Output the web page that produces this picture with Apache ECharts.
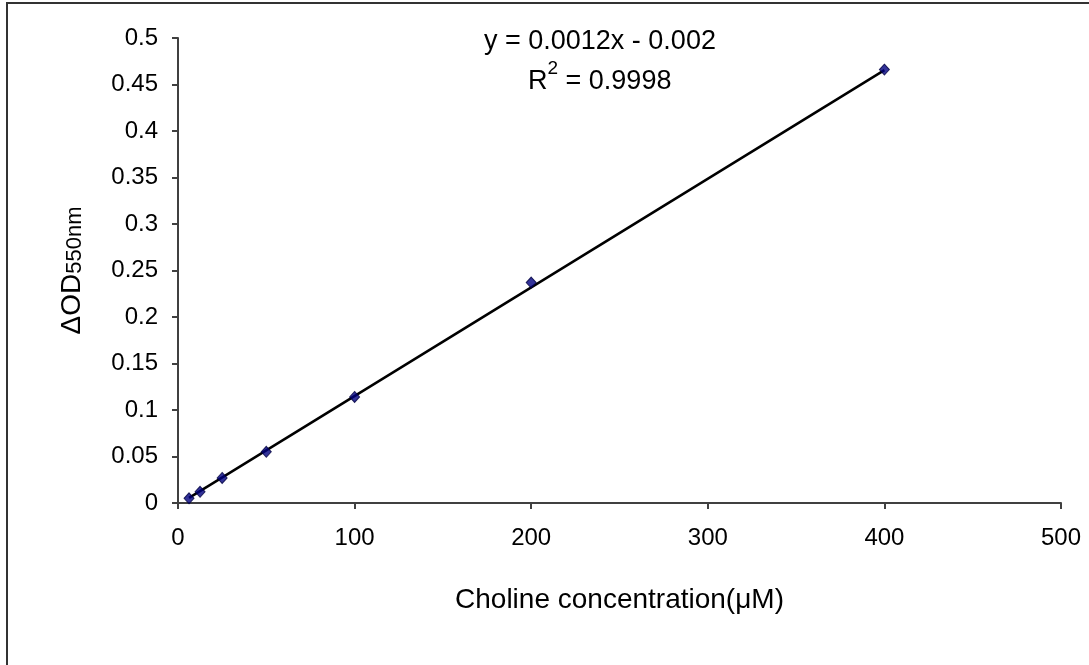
<!DOCTYPE html>
<html>
<head>
<meta charset="utf-8">
<script src="https://cdn.jsdelivr.net/npm/echarts@6/dist/echarts.min.js"></script>
<style>
  html, body { margin: 0; padding: 0; background: #fff; }
  #chart { width: 1089px; height: 665px; }
</style>
</head>
<body>
<div id="chart"></div>
<script>
// choline standard curve
var concentration = [6.25, 12.5, 25, 50, 100, 200, 400]
var deltaOD = [0.005, 0.012, 0.027, 0.055, 0.114, 0.237, 0.466]
// ends of the fitted trendline
var trendX = [6.25, 400]
var trendY = [0.0055, 0.4655]
var xTicks = [0, 100, 200, 300, 400, 500]
var yTicks = [0, 0.05, 0.1, 0.15, 0.2, 0.25, 0.3, 0.35, 0.4, 0.45, 0.5]

var font = '"Liberation Sans", Arial, sans-serif'
var axisColor = '#404040'

var myChart = echarts.init(document.getElementById('chart'))

var points = concentration.map(function (c, i) { return [c, deltaOD[i]] })
var trend = trendX.map(function (c, i) { return [c, trendY[i]] })

myChart.setOption({
  animation: false,
  backgroundColor: '#fff',
  grid: { left: 178, right: 28, top: 38, bottom: 162 },
  xAxis: {
    type: 'value',
    min: xTicks[0],
    max: xTicks[xTicks.length - 1],
    interval: 100,
    name: 'Choline concentration(μM)',
    nameLocation: 'middle',
    nameGap: 83,
    nameTextStyle: { fontFamily: font, fontSize: 28, color: '#000' },
    axisLine: { show: true, onZero: false, lineStyle: { color: axisColor, width: 2 } },
    axisTick: { show: true, length: 6, lineStyle: { color: axisColor, width: 2 } },
    axisLabel: { margin: 23, fontFamily: font, fontSize: 24, color: '#000' },
    splitLine: { show: false }
  },
  yAxis: {
    type: 'value',
    min: yTicks[0],
    max: yTicks[yTicks.length - 1],
    interval: 0.05,
    name: '{a|ΔOD}{b|550nm}',
    nameLocation: 'middle',
    nameGap: 92,
    nameRotate: 90,
    nameTextStyle: {
      rich: {
        a: { fontFamily: font, fontSize: 28, color: '#000', verticalAlign: 'bottom' },
        b: { fontFamily: font, fontSize: 22, color: '#000', verticalAlign: 'bottom' }
      }
    },
    axisLine: { show: true, lineStyle: { color: axisColor, width: 2 } },
    axisTick: { show: true, length: 6, lineStyle: { color: axisColor, width: 2 } },
    axisLabel: {
      margin: 20, fontFamily: font, fontSize: 24, color: '#000',
      formatter: function (v) { return String(+v.toFixed(2)) }
    },
    splitLine: { show: false }
  },
  graphic: [
    {
      type: 'rect',
      silent: true,
      shape: { x: 7, y: 3, width: 1100, height: 680 },
      style: { fill: null, stroke: '#333', lineWidth: 2 }
    },
    {
      type: 'text',
      left: 484,
      top: 28,
      style: {
        text: 'y = 0.0012x - 0.002',
        font: '27px ' + font,
        fill: '#000'
      }
    },
    {
      type: 'text',
      left: 528,
      top: 59,
      style: {
        text: '{r|R}{s|2}{r| = 0.9998}',
        rich: {
          r: { fontFamily: font, fontSize: 27, fill: '#000', verticalAlign: 'bottom', lineHeight: 36 },
          s: { fontFamily: font, fontSize: 19, fill: '#000', verticalAlign: 'top', lineHeight: 36 }
        }
      }
    }
  ],
  series: [
    {
      name: 'trend',
      type: 'line',
      data: trend,
      symbol: 'none',
      lineStyle: { color: '#000', width: 2.5 },
      z: 2
    },
    {
      name: 'points',
      type: 'scatter',
      data: points,
      symbol: 'diamond',
      symbolSize: [10, 11],
      itemStyle: { color: '#000080', borderColor: '#000040', borderWidth: 1 },
      z: 3
    }
  ]
})
</script>
</body>
</html>
